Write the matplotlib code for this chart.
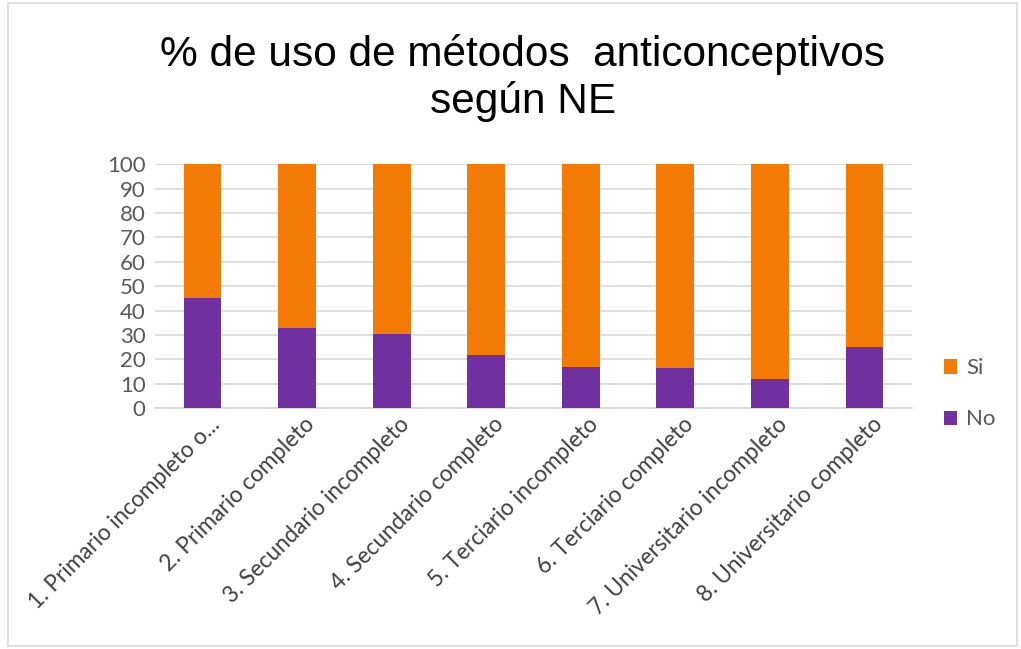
import matplotlib
matplotlib.use("Agg")
import matplotlib.pyplot as plt
import matplotlib.transforms as mtransforms
from matplotlib.patches import Rectangle

categorias = [
    "1. Primario incompleto o...",
    "2. Primario completo",
    "3. Secundario incompleto",
    "4. Secundario completo",
    "5. Terciario incompleto",
    "6. Terciario completo",
    "7. Universitario incompleto",
    "8. Universitario completo",
]
no_vals = [45.2, 32.9, 30.3, 21.7, 16.8, 16.3, 11.9, 24.9]
si_vals = [100 - v for v in no_vals]

color_no = "#7030A0"
color_si = "#F47A06"
gris = "#595959"

plt.rcParams['font.family'] = ['Lato', 'DejaVu Sans']

fig = plt.figure(figsize=(10.21, 6.49), dpi=100)
ax = fig.add_axes([0.152, 0.371, 0.741, 0.376])

x = list(range(len(categorias)))
ax.bar(x, no_vals, width=0.4, color=color_no, label="No", zorder=3)
ax.bar(x, si_vals, width=0.4, bottom=no_vals, color=color_si, label="Si", zorder=3)

ax.set_xlim(-0.5, len(categorias) - 0.5)
ax.set_ylim(0, 100)
ax.set_yticks(range(0, 101, 10))
ax.yaxis.grid(True, color="#D9D9D9", linewidth=1.2, zorder=0)
for s in ["top", "right", "left"]:
    ax.spines[s].set_visible(False)
ax.spines["bottom"].set_color("#D9D9D9")
ax.spines["bottom"].set_linewidth(1.2)
ax.tick_params(axis="both", length=0, colors=gris, labelsize=16)
ax.tick_params(axis="y", pad=7)
ax.tick_params(axis="x", pad=4)
ax.set_xticks(x)
ax.set_xticklabels(categorias, rotation=45, ha="right", va="top",
                   rotation_mode="anchor", color="#404040", fontsize=16.3)
# desplazar etiquetas un poco a la derecha
offset = mtransforms.ScaledTranslation(0.07, 0, fig.dpi_scale_trans)
for lbl in ax.get_xticklabels():
    lbl.set_transform(lbl.get_transform() + offset)

fig.text(0.512, 0.916, "% de uso de métodos  anticonceptivos", ha="center", va="center",
         fontsize=30.5, color="black", family=["Liberation Sans", "DejaVu Sans"])
fig.text(0.512, 0.843, "según NE", ha="center", va="center",
         fontsize=30.5, color="black", family=["Liberation Sans", "DejaVu Sans"])

handles, labels = ax.get_legend_handles_labels()
fig.legend(handles[::-1], labels[::-1], loc="center left", bbox_to_anchor=(0.905, 0.393),
           frameon=False, fontsize=16, labelcolor=gris, handlelength=0.6,
           handleheight=0.6, handletextpad=0.4, labelspacing=1.4)

fig.patches.append(Rectangle((0.008, 0.005), 0.988, 0.99, transform=fig.transFigure,
                             fill=False, edgecolor="#D9D9D9", linewidth=1.2))

fig.savefig("out.png", dpi=100)
